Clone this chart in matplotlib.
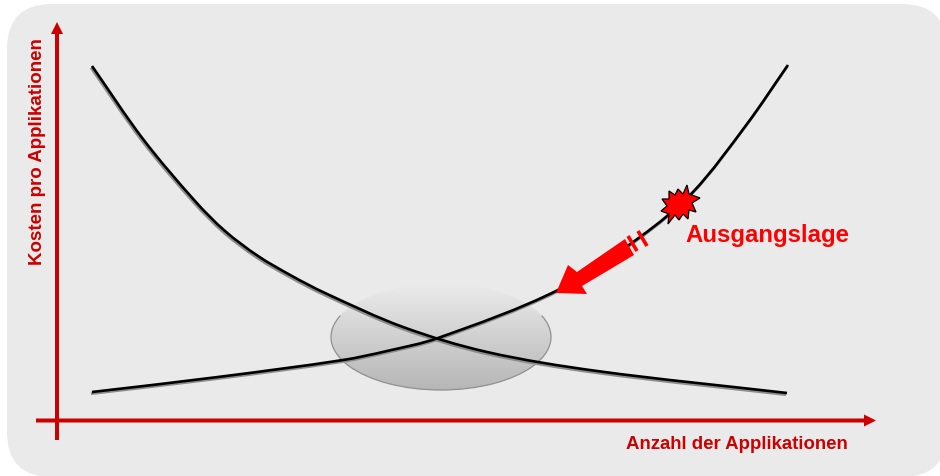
import numpy as np
import matplotlib
matplotlib.use("Agg")
from matplotlib import pyplot as plt
from matplotlib.colors import LinearSegmentedColormap
from matplotlib.patches import Arc, Ellipse, FancyBboxPatch, PathPatch, Polygon
from matplotlib.path import Path
from matplotlib.transforms import Affine2D

plt.rcParams['font.family'] = ['Liberation Sans', 'DejaVu Sans']

RED = '#cc0000'

y_label = "Kosten pro Applikationen"
x_label = "Anzahl der Applikationen"
note = "Ausgangslage"

# curves, in pixels
falling_x = [92, 143, 195, 225, 258, 292, 325, 403, 487, 597, 787]
falling_y = [67, 140, 202, 232, 257, 277, 294, 328, 353, 372, 394]
rising_x = [92, 218, 343, 387, 438, 558, 640, 693, 747, 788]
rising_y = [393, 378, 361, 352, 339, 291, 238, 193, 125, 66]

star_x = [669, 675, 678, 683, 687, 689, 700, 692, 696, 689, 688, 683, 679, 675, 668, 669, 661, 667, 662, 669]
star_y = [192, 196, 190, 195, 186, 195, 199, 204, 213, 211, 220, 215, 221, 216, 225, 215, 212, 207, 200, 200]

arrow_x = [556, 568, 577, 625, 634, 582, 587]
arrow_y = [294, 266, 273, 240, 256, 287, 295]


def smooth_path(xs, ys):
    # bezier through the read points, tangents scaled by chord length
    pts = np.column_stack([xs, ys]).astype(float)
    dt = np.hypot(*np.diff(pts, axis=0).T)
    tang = np.zeros_like(pts)
    tang[1:-1] = (pts[2:] - pts[:-2]) / (dt[1:] + dt[:-1])[:, None]
    tang[0] = (pts[1] - pts[0]) / dt[0]
    tang[-1] = (pts[-1] - pts[-2]) / dt[-1]
    verts = [pts[0]]
    codes = [Path.MOVETO]
    for i in range(len(pts) - 1):
        verts += [pts[i] + tang[i] * dt[i] / 3, pts[i + 1] - tang[i + 1] * dt[i] / 3, pts[i + 1]]
        codes += [Path.CURVE4] * 3
    return Path(verts, codes)


def draw_curve(ax, xs, ys):
    path = smooth_path(xs, ys)
    shadow = path.transformed(Affine2D().translate(-1, 1.7))
    ax.add_patch(PathPatch(shadow, fill=False, ec='#8c8c8c', lw=2.0, zorder=4))
    ax.add_patch(PathPatch(path, fill=False, ec='black', lw=1.9, zorder=5))


fig = plt.figure(figsize=(9.4, 4.77), dpi=100)
ax = fig.add_axes([0, 0, 1, 1])

ax.add_patch(FancyBboxPatch((52, 50), 850, 383, boxstyle="round,pad=45,rounding_size=45",
                            fc='#eaeaea', ec='none', zorder=0))

# lens with the vertical gradient
lens = Ellipse((441, 338), 220, 106, fc='none', ec='none', zorder=2)
ax.add_patch(lens)
grad = np.linspace(0, 1, 128).reshape(-1, 1)
img = ax.imshow(grad, cmap=LinearSegmentedColormap.from_list('g', ['#ebebeb', '#b6b6b6']),
                extent=[331, 551, 391, 285], aspect='auto', zorder=1)
img.set_clip_path(lens)
ax.add_patch(Arc((441, 338), 220, 106, theta1=-12, theta2=192, ec='#909090', lw=0.9, zorder=2))

ax.set_xlim(0, 940)
ax.set_ylim(477, 0)
ax.axis('off')

draw_curve(ax, falling_x, falling_y)
draw_curve(ax, rising_x, rising_y)

# axes arrows
ax.arrow(57, 441, 0, -418, width=4, head_width=12, head_length=12, length_includes_head=True,
         fc=RED, ec='none', zorder=6)
ax.arrow(36, 421.5, 840, 0, width=4, head_width=12, head_length=12, length_includes_head=True,
         fc=RED, ec='none', zorder=6)

ax.text(38, 151.5, y_label, rotation=90, color=RED, fontsize=13.5, fontweight='bold',
        ha='center', va='center', zorder=7)
ax.text(848, 445, x_label, color=RED, fontsize=13.45, fontweight='bold',
        ha='right', va='center', zorder=7)
ax.text(685, 236, note, color='#ff0000', fontsize=17.3, fontweight='bold',
        ha='left', va='center', zorder=7)

ax.add_patch(Polygon(np.column_stack([arrow_x, arrow_y]), closed=True, fc='#ff0000', ec='none', zorder=6))
# the two strokes behind the arrow tail
ax.plot([628, 637], [237, 252], color='#ff0000', lw=2.6, solid_capstyle='butt', zorder=6)
ax.plot([638, 647], [232, 247], color='#ff0000', lw=2.6, solid_capstyle='butt', zorder=6)

ax.add_patch(Polygon(np.column_stack([star_x, star_y]), closed=True, fc='#ff0000', ec='black', lw=0.9, zorder=6))

fig.savefig("out.png", dpi=100, facecolor='white')
